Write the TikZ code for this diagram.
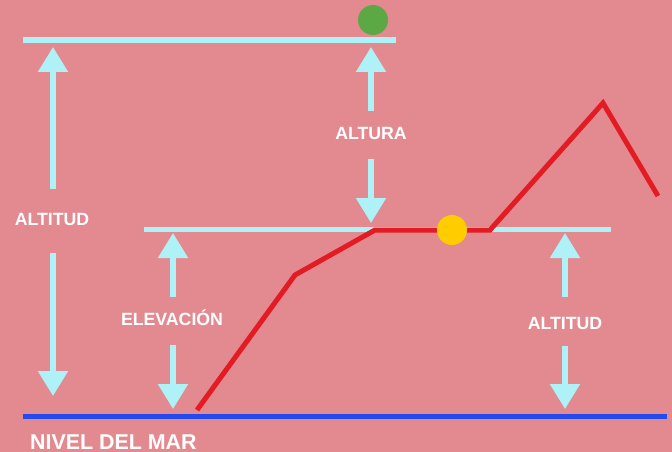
\documentclass[tikz,border=0pt]{standalone}
\usepackage{fontspec}
\setmainfont{Liberation Sans}
\usetikzlibrary{arrows.meta}
\definecolor{fondo}{HTML}{E38A91}
\definecolor{celeste}{HTML}{AEF2F8}
\definecolor{rojo}{HTML}{E31B23}
\definecolor{azul}{HTML}{2549F0}
\definecolor{verde}{HTML}{5BA844}
\definecolor{amarillo}{HTML}{FFCC00}
\tikzset{
	flecha/.style={celeste,line width=5.3pt,-{Triangle[length=25pt,width=29pt]}},
	etiq/.style={white,anchor=base,inner sep=0pt,text height=12pt,text depth=0pt,font=\fontsize{17.7}{17.7}\selectfont\bfseries},
}
\begin{document}
\begin{tikzpicture}[x=1pt,y=-1pt]
	\fill[fondo] (0,0) rectangle (672,452);
	\useasboundingbox (0,0) rectangle (672,452);

	% niveles
	\draw[celeste,line width=5.5pt] (23,40) -- (396,40);
	\draw[celeste,line width=4.8pt] (144,229.5) -- (611,229.5);
	\draw[azul,line width=5pt] (23,416) -- (667,416);

	% terreno
	\draw[rojo,line width=5pt,line join=miter] (197,410) -- (295,275) -- (375,230) -- (490,230) -- (603,103) -- (658,196);
	\fill[verde] (373,20) circle (15);
	\fill[amarillo] (452,230) circle (15);

	\coordinate (t1) at (53,47);
	\coordinate (b1) at (53,396);
	\coordinate (t2) at (371,47);
	\coordinate (b2) at (371,223);
	\coordinate (t3) at (173,233);
	\coordinate (b3) at (173,409);
	\coordinate (t4) at (565,233);
	\coordinate (b4) at (565,409);

	\node[etiq] (alt1) at (52,225) {ALTITUD};
	\node[etiq] (altura) at (371,139) {ALTURA};
	\node[etiq] (elev) at (172,325) {ELEVACIÓN};
	\node[etiq] (alt2) at (565,329) {ALTITUD};
	\node[white,anchor=base west,inner sep=0pt,font=\fontsize{21.4}{21.4}\selectfont\bfseries] (mar) at (30,449) {NIVEL DEL MAR};

	\draw[flecha,shorten <=24pt] (alt1.north -| t1) -- (t1);
	\draw[flecha,shorten <=28pt] (alt1.south -| b1) -- (b1);
	\draw[flecha,shorten <=16pt] (altura.north) -- (t2);
	\draw[flecha,shorten <=20pt] (altura.south) -- (b2);
	\draw[flecha,shorten <=16pt] (elev.north -| t3) -- (t3);
	\draw[flecha,shorten <=20pt] (elev.south -| b3) -- (b3);
	\draw[flecha,shorten <=20pt] (alt2.north) -- (t4);
	\draw[flecha,shorten <=17pt] (alt2.south) -- (b4);
\end{tikzpicture}
\end{document}
